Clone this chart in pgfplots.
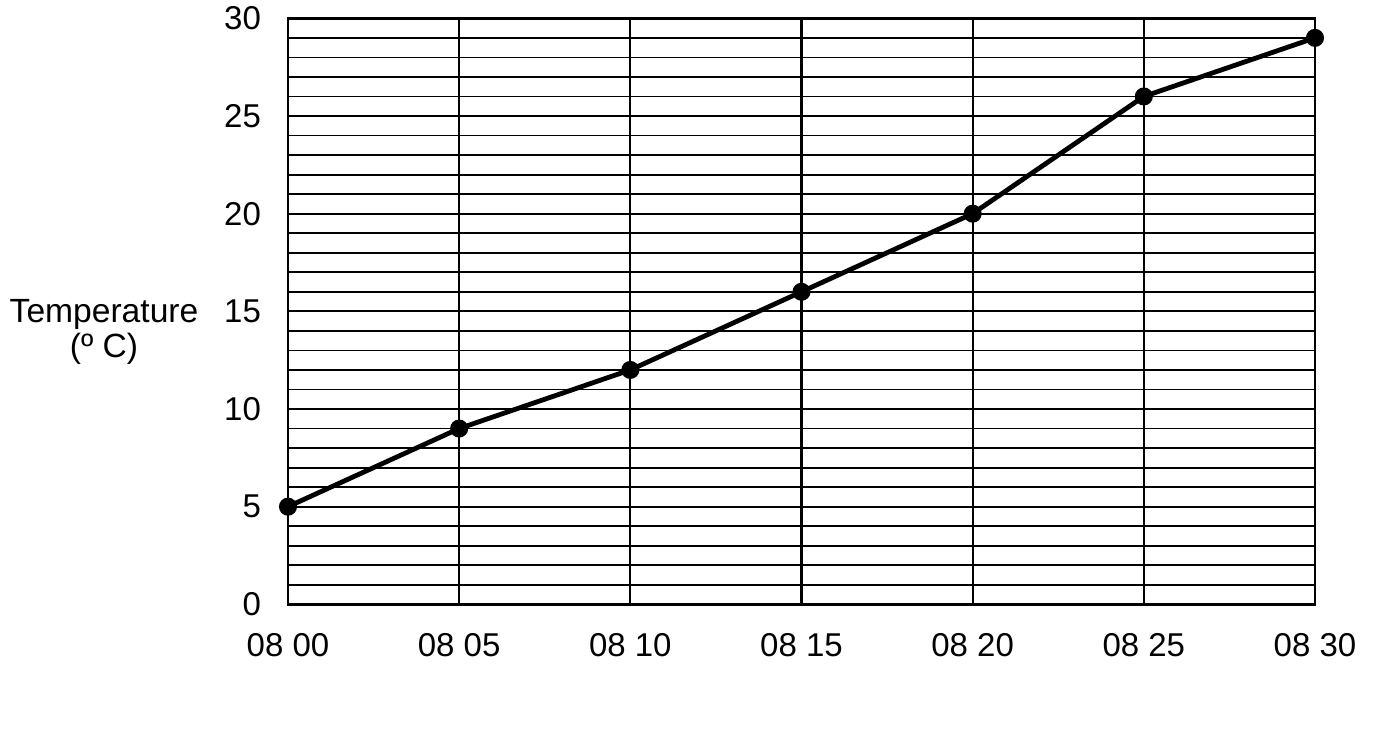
\documentclass[border=0pt]{standalone}
\usepackage{fontspec}
\setmainfont{Liberation Sans}
\usepackage{pgfplots}
\pgfplotsset{compat=1.18}

\begin{document}
\begin{tikzpicture}
\begin{axis}[
    scale only axis,
    width=513.5pt, height=293pt,
    xmin=0, xmax=30, ymin=0, ymax=30,
    xtick={0,5,...,30},
    xticklabels={08 00,08 05,08 10,08 15,08 20,08 25,08 30},
    ytick={0,5,...,30},
    /pgf/number format/assume math mode=true,
    yticklabel={\pgfmathprintnumber{\tick}},
    minor y tick num=4,
    grid=both,
    major grid style={black, line width=1.1pt},
    minor grid style={black, line width=0.9pt},
    axis line style={black, line width=1.2pt},
    major tick length=0pt, minor tick length=0pt,
    tick label style={font=\fontsize{16.5}{18}\selectfont},
    xticklabel style={yshift=-11pt},
    yticklabel style={xshift=-10pt},
    clip=false,
    ]
\addplot[black, line width=2.4pt, mark=*, mark size=3.3pt] coordinates {
    (0,5)
    (5,9)
    (10,12)
    (15,16)
    (20,20)
    (25,26)
    (30,29)
};
\coordinate (bl) at (rel axis cs:0,0);
\node[anchor=north, align=center, font=\fontsize{16.8}{17.5}\selectfont,
      xshift=-92pt, yshift=2pt] at (rel axis cs:0,0.5256) {Temperature\\(º C)};
\end{axis}
\path (bl) ++(-144pt,-66.5pt) rectangle ++(688.5pt,367pt);
\end{tikzpicture}
\end{document}
